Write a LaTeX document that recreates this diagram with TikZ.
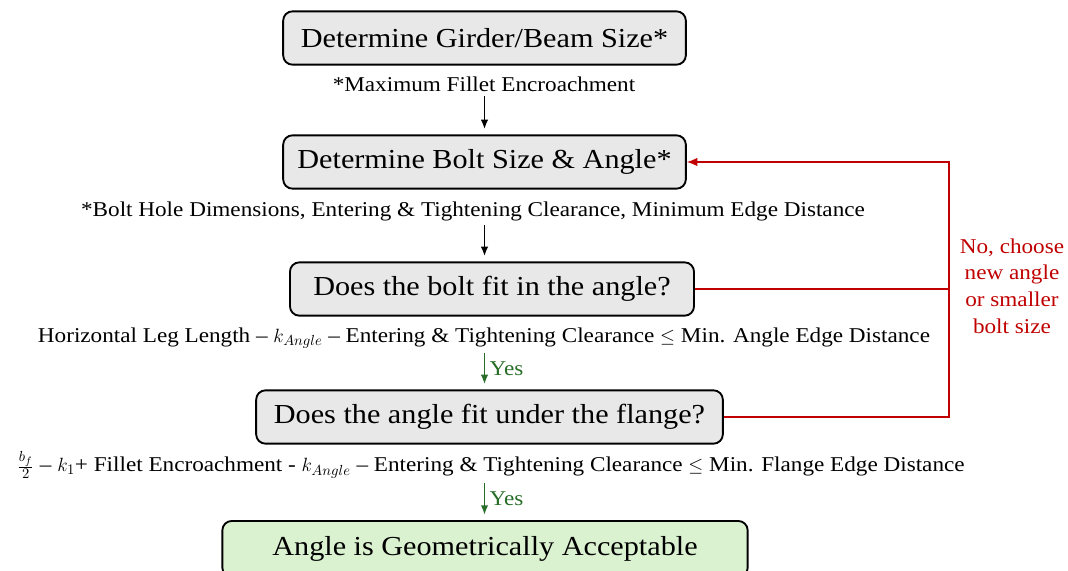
\documentclass[tikz,border=0pt]{standalone}
\usepackage{fontspec}
\setmainfont{Liberation Serif}[FakeStretch=1.1]
\usetikzlibrary{arrows.meta}

\definecolor{boxgray}{RGB}{232,232,232}
\definecolor{boxgreen}{RGB}{218,242,208}
\definecolor{nored}{RGB}{192,0,0}
\definecolor{yesgreen}{RGB}{40,110,40}

\begin{document}
\begin{tikzpicture}[x=0.75pt, y=-0.75pt,
    stepbox/.style={draw, line width=1.4pt, rounded corners=7pt, fill=boxgray, minimum height=40pt, font=\fontsize{20.6}{25}\selectfont},
    note/.style={font=\fontsize{15.8}{19}\selectfont},
    flow/.style={-{Latex[length=7pt,width=5.5pt]}, line width=1.1pt},
    yes/.style={flow, yesgreen},
    back/.style={nored, line width=1.2pt}]
    \useasboundingbox (0,0) rectangle (1068,571);
    \clip (0,0) rectangle (1068,571);

    % steps
    \node[stepbox, minimum width=302pt] (size) at (484.5,38) {Determine Girder/Beam Size*};
    \node[note] (sizenote) at (484,84) {*Maximum Fillet Encroachment};
    \node[stepbox, minimum width=302pt] (bolt) at (484.5,162) {Determine Bolt Size \& Angle*};
    \node[note] (boltnote) at (473,211) {*Bolt Hole Dimensions, Entering \& Tightening Clearance, Minimum Edge Distance};
    \node[stepbox, minimum width=303pt] (fitangle) at (492,289) {Does the bolt fit in the angle?};
    \node[note] (anglenote) at (484,338) {Horizontal Leg Length -- $k_{Angle}$ -- Entering \& Tightening Clearance $\le$ Min. Angle Edge Distance};
    \node[stepbox, minimum width=350pt] (fitflange) at (489.5,417) {Does the angle fit under the flange?};
    \node[note] (flangenote) at (491,465) {$\frac{b_f}{2}$ -- $k_1$+ Fillet Encroachment - $k_{Angle}$ -- Entering \& Tightening Clearance $\le$ Min. Flange Edge Distance};
    \node[stepbox, fill=boxgreen, minimum width=394pt, minimum height=42pt] (ok) at (485,549) {Angle is Geometrically Acceptable};

    % arrows down
    \draw[flow] (bolt |- sizenote.south) -- ([yshift=4pt]bolt.north);
    \draw[flow] (bolt |- boltnote.south) -- ([yshift=4pt]bolt.north |- fitangle.north);
    \draw[yes] (bolt |- anglenote.south) -- node[right, note, yesgreen]{Yes} ([yshift=4pt]bolt.north |- fitflange.north);
    \draw[yes] (bolt |- flangenote.south) -- node[right, note, yesgreen]{Yes} ([yshift=4pt]bolt.north |- ok.north);

    % loop back
    \coordinate (loop) at (949,417);
    \draw[back] (fitangle.east) -- (fitangle.east -| loop);
    \draw[back, -{Latex[length=8pt,width=6.5pt]}] (fitflange.east) -- (loop) |- (bolt.east);
    \node[nored, align=center, font=\fontsize{15.8}{20}\selectfont] (no) at (1012,286) {No, choose\\new angle\\or smaller\\bolt size};
\end{tikzpicture}
\end{document}
